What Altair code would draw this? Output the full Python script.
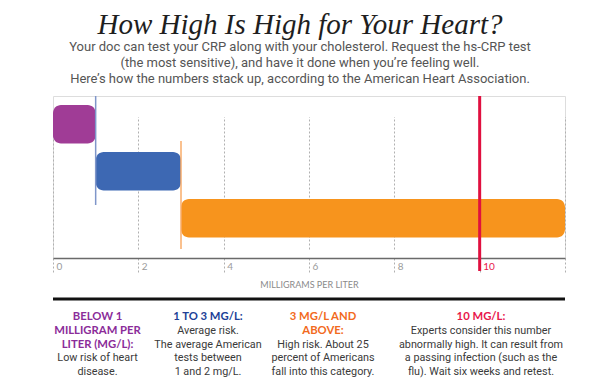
import altair as alt
import pandas as pd

# ---- data ----
categories = ["Below 1 mg/L", "1 to 3 mg/L", "3 mg/L and above"]
range_start = [0, 1, 3]
range_end = [1, 3, 12]
bar_colors = ["#a03c96", "#3d68b3", "#f7941d"]
marker_values = [1, 3]
marker_colors = ["#7f96c9", "#f9ad6a"]
threshold = 10
tick_values = [0, 2, 4, 6, 8, 10, 12]

title_text = "How High Is High for Your Heart?"
subtitle_lines = [
    "Your doc can test your CRP along with your cholesterol. Request the hs-CRP test",
    "(the most sensitive), and have it done when you\u2019re feeling well.",
    "Here\u2019s how the numbers stack up, according to the American Heart Association.",
]
col_heads = [
    ["BELOW 1", "MILLIGRAM PER", "LITER (MG/L):"],
    ["1 TO 3 MG/L:"],
    ["3 MG/L AND", "ABOVE:"],
    ["10 MG/L:"],
]
col_bodies = [
    ["Low risk of heart", "disease."],
    ["Average risk.", "The average American", "tests between", "1 and 2 mg/L."],
    ["High risk. About 25", "percent of Americans", "fall into this category."],
    ["Experts consider this number", "abnormally high. It can result from",
     "a passing infection (such as the", "flu). Wait six weeks and retest."],
]
col_colors = ["#8b2c99", "#213f97", "#f26a21", "#e8174b"]

W, H = 512, 162

bars_df = pd.DataFrame({"category": categories, "start": range_start,
                        "end": range_end, "color": bar_colors})
markers_df = pd.DataFrame({"value": marker_values, "color": marker_colors})
thr_df = pd.DataFrame({"value": [threshold]})

xscale = alt.Scale(domain=[0, 12], nice=False, zero=False)
xaxis = alt.Axis(
    values=tick_values, title="MILLIGRAMS PER LITER",
    labelExpr="datum.value == 12 ? '' : datum.label",
    labelColor=alt.condition("datum.value == 10", alt.value("#e8174b"), alt.value("#9b9b9b")),
    labelAlign="left", labelOffset=3, labelBaseline="middle", labelPadding=-6,
    labelFont="Lato", labelFontSize=10,
    grid=True, gridDash=[2, 2], gridColor="#b0b0b0", gridWidth=1,
    ticks=True, tickSize=14, tickDash=[2, 2], tickColor="#b0b0b0", tickWidth=1,
    domain=True, domainColor="#6a6a6a", domainWidth=1.5,
    titleFont="Lato", titleFontSize=9, titleColor="#8a8a8a", titleFontWeight="normal",
    titleY=26, titleBaseline="middle",
)

bars = alt.Chart(bars_df).mark_bar(cornerRadius=8).encode(
    x=alt.X("start:Q", scale=xscale, axis=xaxis),
    x2="end:Q",
    y=alt.Y("category:N", sort=categories, axis=None,
            scale=alt.Scale(range=[9, 141.5], paddingInner=0.18, paddingOuter=0)),
    color=alt.Color("color:N", scale=None),
)

m1 = alt.Chart(markers_df.iloc[[0]]).mark_rule(strokeWidth=1.5).encode(
    x=alt.X("value:Q", scale=xscale), y=alt.value(0), y2=alt.value(109),
    color=alt.Color("color:N", scale=None))
m2 = alt.Chart(markers_df.iloc[[1]]).mark_rule(strokeWidth=1.5).encode(
    x=alt.X("value:Q", scale=xscale), y=alt.value(45), y2=alt.value(153),
    color=alt.Color("color:N", scale=None))

thr = alt.Chart(thr_df).mark_rule(strokeWidth=3, color="#e0103f").encode(
    x=alt.X("value:Q", scale=xscale), y=alt.value(0), y2=alt.value(175))

one = pd.DataFrame({"k": [0]})

def txt(lines, x, y, baseline="middle", **kw):
    return alt.Chart(one).mark_text(baseline=baseline, align="center", **kw).encode(
        x=alt.value(x), y=alt.value(y), text=alt.value(lines))

black = alt.Chart(one).mark_rule(color="#111111", strokeWidth=3).encode(
    x=alt.value(0), x2=alt.value(W), y=alt.value(203))

layers = [bars, m1, m2, thr, black]
layers.append(txt(title_text, 247, -62, baseline="alphabetic", font="Liberation Serif",
                  fontStyle="italic", fontSize=29, color="#1e1e1e"))
layers.append(txt(subtitle_lines, 247, -49, font="Roboto", fontSize=13, color="#555555",
                  lineHeight=16))

col_x = [44.5, 155, 270, 428]
line_h = 13.75
y0 = 221
for i in range(4):
    layers.append(txt(col_heads[i], col_x[i], y0, font="Lato", fontWeight="bold",
                      fontSize=11.3, color=col_colors[i], lineHeight=line_h))
    layers.append(txt(col_bodies[i], col_x[i], y0 + line_h * len(col_heads[i]),
                      font="Roboto", fontSize=10.8, color="#3a3a3a", lineHeight=line_h))

chart = alt.layer(*layers).properties(
    width=W, height=H,
    autosize=alt.AutoSizeParams(type="none"),
    padding={"left": 45, "top": 88, "right": 27, "bottom": 120},
).configure_view(stroke=None).configure(background="white")

chart.save("out.html", embed_options={"renderer": "svg", "actions": False})
